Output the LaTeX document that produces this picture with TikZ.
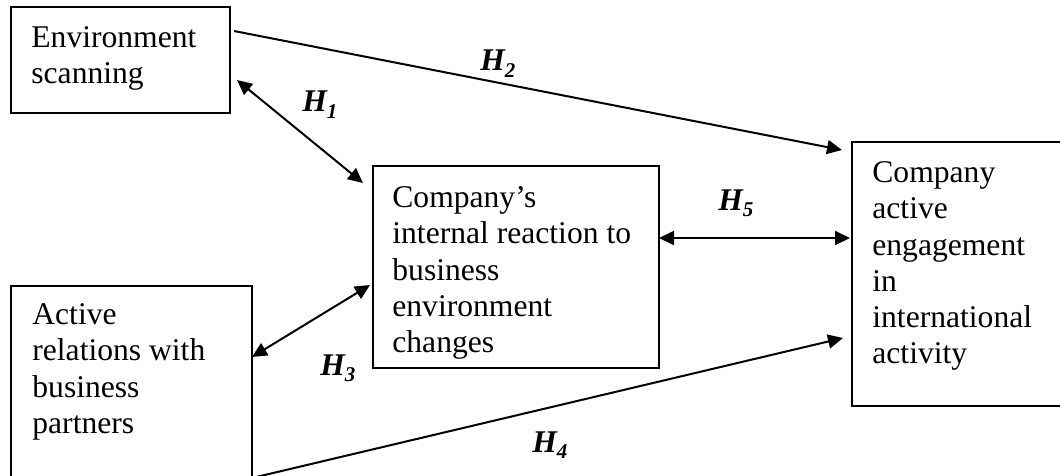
\documentclass[tikz,border=0pt]{standalone}
\usepackage{fontspec}
\setmainfont{Liberation Serif}
\usetikzlibrary{arrows.meta}
\newcommand{\hyplabel}[1]{H\raisebox{-0.22em}{\fontsize{10.5}{12}\selectfont #1}}
\begin{document}
\begin{tikzpicture}[x=0.5pt,y=-0.5pt,
  box/.style={draw, line width=1pt, inner sep=0pt, anchor=north west},
  txt/.style={anchor=north west, inner sep=0pt, align=left, font=\fontsize{15.8}{18.15}\selectfont},
  hyp/.style={anchor=base west, inner sep=0pt, font=\fontsize{15.8}{18.15}\selectfont\bfseries\itshape},
  tip/.style={Triangle[length=7.5pt,width=7pt]},
  conn/.style={line width=1pt, -{Triangle[length=7.5pt,width=7pt]}},
  biconn/.style={line width=1pt, {Triangle[length=7.5pt,width=7pt]}-{Triangle[length=7.5pt,width=7pt]}},
]
\useasboundingbox (0,0) rectangle (1060,476);
\clip (0,0) rectangle (1060,476);
% boxes
\node[box, minimum width=109.5pt, minimum height=53pt] (env) at (10,6) {};
\node[box, minimum width=143pt, minimum height=101pt] (react) at (372,165) {};
\node[box, minimum width=120.5pt, minimum height=110pt] (rel) at (10,285) {};
\node[box, minimum width=115pt, minimum height=132pt] (eng) at (851,141) {};
% texts
\node[txt] (envtxt) at (31,21.6) {\strut Environment\\scanning};
\node[txt] (reacttxt) at (392,181.6) {\strut Company’s\\internal reaction to\\business\\environment\\changes};
\node[txt] (reltxt) at (32,298.6) {\strut Active\\relations with\\business\\partners};
\node[txt] (engtxt) at (872,156.6) {\strut Company\\active\\engagement\\in\\international\\activity};
% connector end points
\coordinate (h2s) at (234,31);
\coordinate (h2e) at (842,150);
\coordinate (h1s) at (237,80);
\coordinate (h1e) at (363,183);
\coordinate (h5s) at (659,238);
\coordinate (h5e) at (850,238);
\coordinate (h3s) at (252,357);
\coordinate (h3e) at (370,285);
\coordinate (h4s) at (252,478);
\coordinate (h4e) at (843,338);
% connectors
\draw[conn] (h2s) -- (h2e);
\draw[biconn] (h1s) -- (h1e);
\draw[biconn] (h5s) -- (h5e);
\draw[biconn] (h3s) -- (h3e);
\draw[conn] (h4s) -- (h4e);
% labels
\node[hyp] (lh1) at (302,112) {\hyplabel{1}};
\node[hyp] (lh2) at (480,71) {\hyplabel{2}};
\node[hyp] (lh3) at (320,375) {\hyplabel{3}};
\node[hyp] (lh4) at (532,452) {\hyplabel{4}};
\node[hyp] (lh5) at (718,210) {\hyplabel{5}};
\end{tikzpicture}
\end{document}
